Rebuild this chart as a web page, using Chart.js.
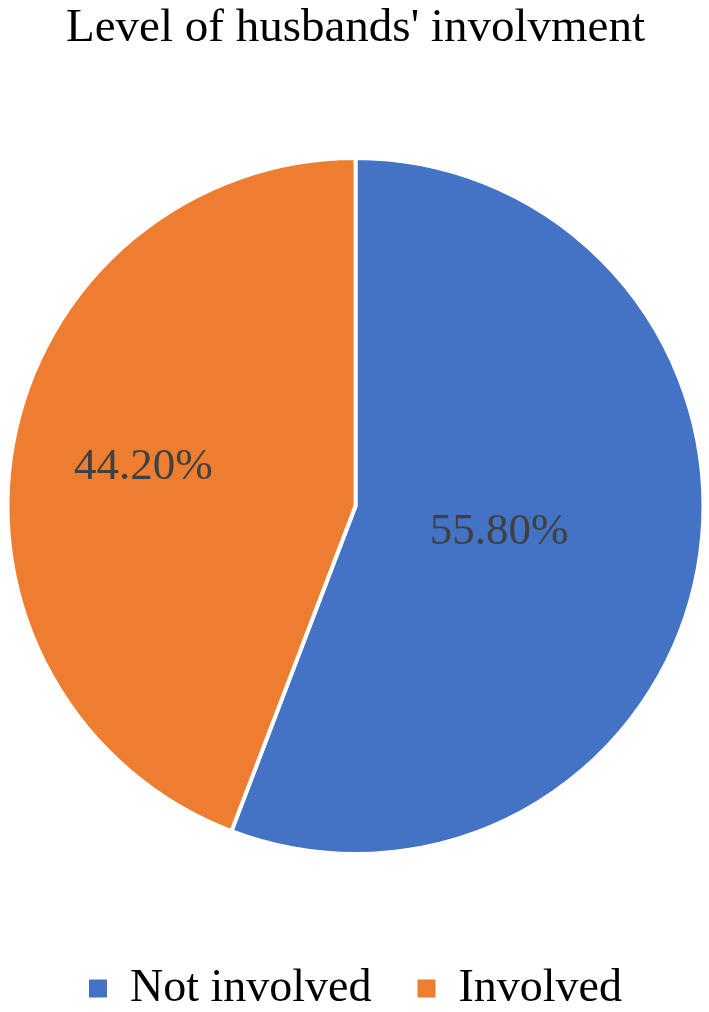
<!DOCTYPE html>
<html>
<head>
<meta charset="utf-8">
<script src="https://cdn.jsdelivr.net/npm/chart.js@4/dist/chart.umd.min.js"></script>
<style>
  html, body { margin: 0; padding: 0; background: #ffffff; }
  #wrap { width: 709px; height: 1012px; position: relative; }
</style>
</head>
<body>
<div id="wrap"><canvas id="myChart"></canvas></div>
<script>
(() => {
  "use strict";

  // Chart data
  const categories = ["Not involved", "Involved"];
  const shares = [55.8, 44.2];
  const sliceColors = ["#4472C4", "#ED7D31"];
  const chartTitle = "Level of husbands' involvment";

  const serif = "'Liberation Serif', 'Times New Roman', serif";

  // Draws the percentage text inside each slice
  const sliceLabels = {
    id: "sliceLabels",
    afterDatasetsDraw(chart, args, opts) {
      const ctx = chart.ctx;
      const meta = chart.getDatasetMeta(0);
      ctx.save();
      ctx.font = opts.size + "px " + serif;
      ctx.fillStyle = opts.color;
      ctx.textAlign = "center";
      ctx.textBaseline = "middle";
      meta.data.forEach((arc, i) => {
        const mid = (arc.startAngle + arc.endAngle) / 2;
        const r = arc.outerRadius * opts.radius[i];
        const x = arc.x + Math.cos(mid) * r;
        const y = arc.y + Math.sin(mid) * r;
        ctx.fillText(shares[i].toFixed(2) + "%", x, y);
      });
      ctx.restore();
    },
  };

  // Legend squares without the white slice border
  const baseLabels = Chart.controllers.pie.overrides.plugins.legend.labels.generateLabels;

  const ctx = document.getElementById("myChart");
  new Chart(ctx, {
    type: "pie",
    data: {
      labels: categories,
      datasets: [
        {
          data: shares,
          backgroundColor: sliceColors,
          borderColor: "#ffffff",
          borderWidth: 4,
        },
      ],
    },
    options: {
      responsive: true,
      maintainAspectRatio: false,
      animation: false,
      layout: {
        padding: { left: 2, right: 0, top: 0, bottom: -9.5 },
      },
      plugins: {
        title: {
          display: true,
          text: chartTitle,
          color: "#000000",
          font: { family: serif, size: 47, weight: "normal", lineHeight: 1.2 },
          padding: { top: 0, bottom: 99.6 },
        },
        legend: {
          position: "bottom",
          title: {
            display: true,
            text: "",
            padding: { top: 49.1, bottom: 0 },
          },
          labels: {
            color: "#000000",
            font: { family: serif, size: 46 },
            boxWidth: 18,
            boxHeight: 18,
            padding: 46,
            generateLabels(chart) {
              return baseLabels(chart).map((item) => {
                item.lineWidth = 0;
                item.strokeStyle = item.fillStyle;
                return item;
              });
            },
          },
        },
        tooltip: { enabled: false },
        sliceLabels: {
          size: 45,
          color: "#404040",
          radius: [0.42, 0.62],
        },
      },
    },
    plugins: [sliceLabels],
  });
})();
</script>
</body>
</html>
